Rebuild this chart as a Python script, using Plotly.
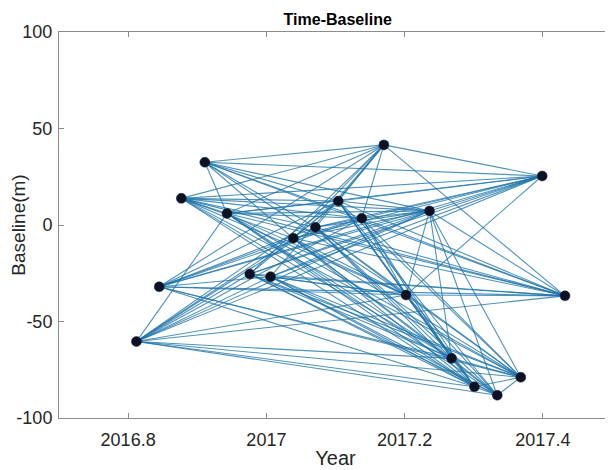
import plotly.graph_objects as go

# acquisition dates (decimal year) and perpendicular baselines (m)
labels = ["A", "B", "C", "D", "E", "F", "G", "H", "I", "J",
          "K", "L", "M", "N", "O", "P", "Q", "R", "S", "T"]
years = [2016.812, 2016.845, 2016.877, 2016.911, 2016.943, 2016.976, 2017.006,
         2017.039, 2017.071, 2017.104, 2017.138, 2017.170, 2017.202, 2017.236,
         2017.268, 2017.301, 2017.334, 2017.368, 2017.399, 2017.432]
baselines = [-60.4, -32.0, 13.8, 32.5, 6.0, -25.4, -26.8, -6.9, -1.2, 12.4,
             3.5, 41.5, -36.3, 7.3, -69.1, -83.8, -88.2, -78.9, 25.4, -36.7]

# interferometric pairs (master, slave)
pairs = [
    ("A", "E"), ("A", "F"), ("A", "G"), ("A", "H"), ("A", "I"), ("A", "J"), ("A", "K"),
    ("A", "N"), ("A", "S"), ("A", "M"), ("A", "T"), ("A", "O"), ("A", "P"), ("A", "Q"), ("A", "R"),
    ("B", "G"), ("B", "H"), ("B", "I"), ("B", "J"), ("B", "K"), ("B", "N"), ("B", "S"),
    ("B", "L"), ("B", "M"), ("B", "T"), ("B", "O"), ("B", "P"), ("B", "R"),
    ("C", "E"), ("C", "L"), ("C", "S"), ("C", "N"), ("C", "J"), ("C", "K"), ("C", "I"),
    ("C", "H"), ("C", "M"), ("C", "T"), ("C", "O"), ("C", "P"), ("C", "R"),
    ("D", "L"), ("D", "S"), ("D", "N"), ("D", "J"), ("D", "K"), ("D", "E"), ("D", "I"),
    ("D", "H"), ("D", "T"), ("D", "M"),
    ("E", "N"), ("E", "S"), ("E", "L"), ("E", "J"), ("E", "K"), ("E", "M"), ("E", "T"),
    ("E", "O"), ("E", "P"), ("E", "Q"), ("E", "R"),
    ("F", "L"), ("F", "N"), ("F", "S"), ("F", "J"), ("F", "M"), ("F", "T"), ("F", "O"),
    ("F", "P"), ("F", "Q"), ("F", "R"),
    ("G", "M"), ("G", "T"), ("G", "R"), ("G", "O"), ("G", "P"), ("G", "Q"), ("G", "N"),
    ("G", "S"), ("G", "L"),
    ("H", "N"), ("H", "S"), ("H", "K"), ("H", "J"), ("H", "L"), ("H", "M"), ("H", "T"),
    ("H", "O"), ("H", "P"), ("H", "Q"), ("H", "R"),
    ("I", "L"), ("I", "N"), ("I", "S"), ("I", "K"), ("I", "M"), ("I", "T"), ("I", "O"),
    ("I", "P"), ("I", "Q"), ("I", "R"),
    ("J", "L"), ("J", "S"), ("J", "N"), ("J", "M"), ("J", "T"), ("J", "O"), ("J", "P"),
    ("J", "Q"), ("J", "R"),
    ("K", "L"), ("K", "S"), ("K", "N"), ("K", "M"), ("K", "T"), ("K", "O"), ("K", "P"), ("K", "R"),
    ("L", "S"), ("L", "T"),
    ("M", "S"), ("M", "T"), ("M", "N"), ("M", "O"), ("M", "P"), ("M", "Q"), ("M", "R"),
    ("N", "S"), ("N", "T"), ("N", "O"), ("N", "R"), ("N", "Q"),
    ("O", "P"), ("O", "Q"), ("O", "R"),
    ("P", "Q"), ("P", "R"),
    ("Q", "R"),
]

x_tickvals = [2016.8, 2017.0, 2017.2, 2017.4]
x_ticktext = ["2016.8", "2017", "2017.2", "2017.4"]
y_tickvals = [-100, -50, 0, 50, 100]
y_ticktext = ["-100", "-50", "0", "50", "100"]

idx = {k: i for i, k in enumerate(labels)}
lx, ly = [], []
for a, b in pairs:
    i, j = idx[a], idx[b]
    lx += [years[i], years[j], None]
    ly += [baselines[i], baselines[j], None]

FONT = "Liberation Sans, Arial"

fig = go.Figure()
fig.add_trace(go.Scatter(x=lx, y=ly, mode="lines",
                         line=dict(color="rgba(30,115,170,0.78)", width=1.1),
                         hoverinfo="skip", showlegend=False))
fig.add_trace(go.Scatter(x=years, y=baselines, mode="markers",
                         marker=dict(size=10, color="#0c1222",
                                     line=dict(color="#1a2a4a", width=0.5)),
                         showlegend=False))

axis_common = dict(showline=True, linecolor="#8c8c8c", linewidth=1, mirror="ticks",
                   ticks="inside", ticklen=5, tickcolor="#8c8c8c",
                   showgrid=False, zeroline=False, automargin=False,
                   tickfont=dict(family=FONT, size=18, color="#262626"))

# page body has an 8px margin, so the figure is sized to fit the 613x470 window
fig.update_layout(
    width=605, height=462,
    margin=dict(l=51, r=1, t=24, b=52, autoexpand=False),
    paper_bgcolor="white", plot_bgcolor="white",
    title=dict(text="<b>Time-Baseline</b>", x=0.545, xanchor="center", y=0.975, yanchor="middle",
               font=dict(family=FONT, size=16, color="#000000")),
    xaxis=dict(range=[2016.7, 2017.5], tickvals=x_tickvals, ticktext=x_ticktext,
               title=dict(text="Year", standoff=2,
                          font=dict(family=FONT, size=20, color="#262626")),
               ticklabelstandoff=5, **axis_common),
    yaxis=dict(range=[-100, 100], tickvals=y_tickvals, ticktext=y_ticktext,
               title=dict(text="Baseline(m)", standoff=0,
                          font=dict(family=FONT, size=19, color="#262626")),
               ticklabelstandoff=2, **axis_common),
)

fig.write_html("out.html")
